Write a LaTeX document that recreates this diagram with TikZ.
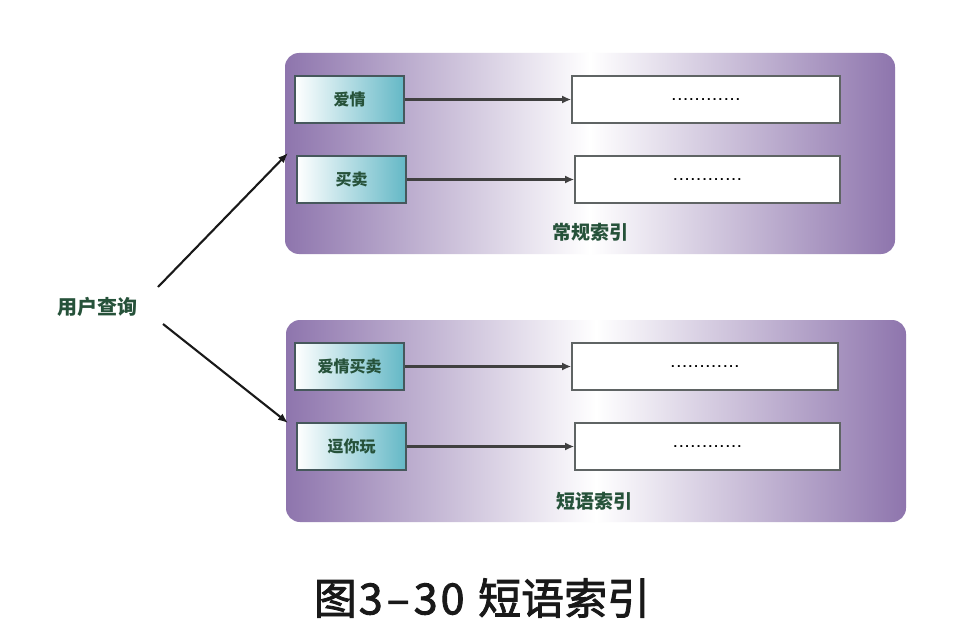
\documentclass[tikz,border=0pt]{standalone}
\usepackage{fontspec}
\newfontfamily\cjk{Noto Sans CJK SC}
\newfontfamily\capfont[FakeBold=2]{Noto Sans CJK SC}
\newfontfamily\dotfont{Liberation Sans}
\usetikzlibrary{arrows.meta}
\definecolor{panelpurple}{RGB}{142,117,173}
\definecolor{labelgreen}{RGB}{38,82,58}
\definecolor{keyteal}{RGB}{100,184,198}
\definecolor{keyborder}{RGB}{70,88,92}
\definecolor{valborder}{RGB}{95,100,100}
\newcommand\dd{.\kern2.2pt}
\newcommand\dotrow{{\dotfont\bfseries\fontsize{13}{13}\selectfont\dd\dd\dd\dd\dd\dd\dd\dd\dd\dd\dd.}}
\tikzset{
  panel/.style={rounded corners=14pt, left color=panelpurple, right color=panelpurple, middle color=white, inner sep=0pt},
  keybox/.style={draw=keyborder, line width=1.6pt, left color=white, right color=keyteal, minimum width=109pt, minimum height=47pt, inner sep=0pt, text=labelgreen, font=\cjk\bfseries\fontsize{16}{16}\selectfont},
  valbox/.style={draw=valborder, line width=1.6pt, fill=white, minimum height=47pt, inner sep=0pt},
  panellabel/.style={text=labelgreen, font=\cjk\bfseries\fontsize{19}{19}\selectfont},
  arr/.style={draw=black!90, line width=2.1pt, -{Latex[length=10pt,width=8pt]}},
  link/.style={draw=black!75, line width=2.1pt, -{Latex[length=9pt,width=8pt]}}
}
\begin{document}
\begin{tikzpicture}[x=1pt,y=-1pt]
\useasboundingbox[fill=white] (0,0) rectangle (954,642);
% panels
\node[panel, minimum width=610pt, minimum height=201pt] (p1) at (590,153.5) {};
\node[panel, minimum width=620pt, minimum height=202pt] (p2) at (596,421) {};
% upper panel
\node[keybox] (k1) at (349.5,99.5) {爱情};
\node[keybox] (k2) at (351.5,179.5) {买卖};
\node[valbox, minimum width=268pt] (v1) at (706,99.5) {\dotrow};
\node[valbox, minimum width=265pt] (v2) at (707.5,179.5) {\dotrow};
\draw[link] (k1.east) -- (v1.west);
\draw[link] (k2.east) -- (v2.west);
\node[panellabel] (l1) at (590,232) {常规索引};
% lower panel
\node[keybox] (k3) at (349.5,366.5) {爱情买卖};
\node[keybox] (k4) at (351.5,446.5) {逗你玩};
\node[valbox, minimum width=266pt] (v3) at (705,366.5) {\dotrow};
\node[valbox, minimum width=265pt] (v4) at (707.5,446.5) {\dotrow};
\draw[link] (k3.east) -- (v3.west);
\draw[link] (k4.east) -- (v4.west);
\node[panellabel] (l2) at (594,501) {短语索引};
% user query
\node[panellabel, font=\cjk\bfseries\fontsize{20}{20}\selectfont] (q) at (97,307) {用户查询};
\coordinate (qa) at (158,287);
\coordinate (qb) at (163,324);
\coordinate (ea) at (288,153);
\coordinate (eb) at (288,423);
\draw[arr] (qa) -- (ea);
\draw[arr] (qb) -- (eb);
% caption
\node[font=\capfont\fontsize{43}{43}\selectfont, text=black!90] (cap) at (482,598) {图\kern2pt3\kern4pt–\kern4pt3\kern3pt0\kern4pt\ 短语索引};
\end{tikzpicture}
\end{document}
